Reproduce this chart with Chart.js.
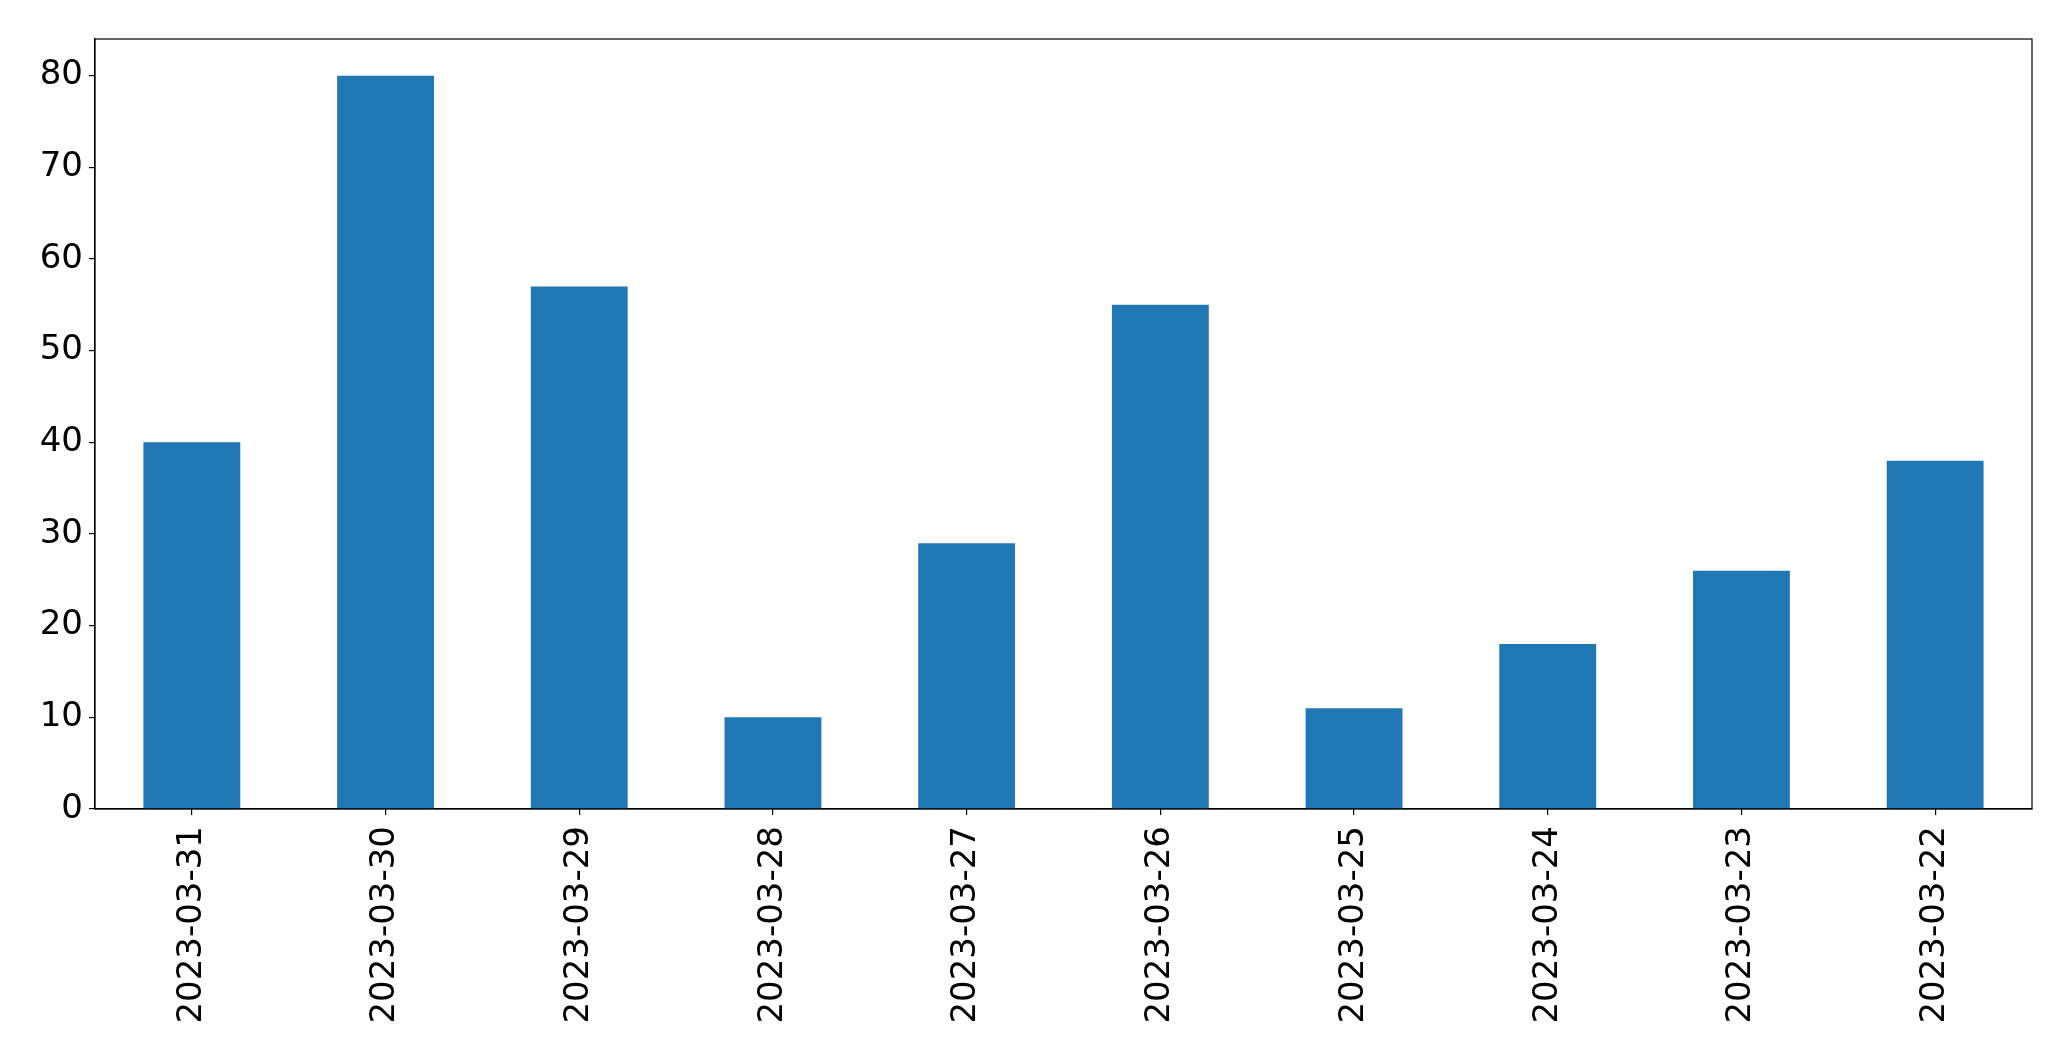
<!DOCTYPE html>
<html>
<head>
<meta charset="utf-8">
<script src="https://cdn.jsdelivr.net/npm/chart.js@4/dist/chart.umd.min.js"></script>
<style>
    html, body { margin: 0; padding: 0; background: #fff; }
    canvas { display: block; }
</style>
</head>
<body>
<canvas id="barChart" width="2071" height="1061"></canvas>
<script>
const dates = ['2023-03-31', '2023-03-30', '2023-03-29', '2023-03-28', '2023-03-27',
               '2023-03-26', '2023-03-25', '2023-03-24', '2023-03-23', '2023-03-22'];
const counts = [40, 80, 57, 10, 29, 55, 11, 18, 26, 38];
const yTicks = [0, 10, 20, 30, 40, 50, 60, 70, 80];

// draws the top and right edges of the axes box
const frameBox = {
    id: 'frameBox',
    afterDraw(chart) {
        const { ctx, chartArea } = chart;
        ctx.save();
        ctx.strokeStyle = '#000';
        ctx.lineWidth = 1.2;
        ctx.strokeRect(chartArea.left, chartArea.top,
            chartArea.right - chartArea.left, chartArea.bottom - chartArea.top);
        ctx.restore();
    }
};

document.addEventListener('DOMContentLoaded', () => {
    const ctx = document.getElementById('barChart').getContext('2d');
    new Chart(ctx, {
        type: 'bar',
        data: {
            labels: dates,
            datasets: [{
                data: counts,
                backgroundColor: '#1f77b4',
                barPercentage: 0.5,
                categoryPercentage: 1.0
            }]
        },
        options: {
            responsive: false,
            animation: false,
            layout: {
                padding: { top: 39, right: 39, left: 0, bottom: 0 }
            },
            plugins: {
                legend: { display: false },
                tooltip: { enabled: false }
            },
            scales: {
                x: {
                    offset: true,
                    grid: {
                        offset: false,
                        drawOnChartArea: false,
                        tickLength: 6,
                        color: '#000',
                        lineWidth: 1.2
                    },
                    border: { display: true, color: '#000', width: 1.2 },
                    ticks: {
                        color: '#000',
                        font: { family: 'DejaVu Sans', size: 34 },
                        minRotation: 90,
                        maxRotation: 90,
                        padding: 11
                    },
                    afterFit: scale => { scale.height = 252; }
                },
                y: {
                    min: 0,
                    max: 84,
                    afterBuildTicks: scale => {
                        scale.ticks = yTicks.map(v => ({ value: v }));
                    },
                    grid: {
                        drawOnChartArea: false,
                        tickLength: 6,
                        color: '#000',
                        lineWidth: 1.2
                    },
                    border: { display: true, color: '#000', width: 1.2 },
                    ticks: {
                        color: '#000',
                        font: { family: 'DejaVu Sans', size: 34 },
                        padding: 6
                    },
                    afterFit: scale => { scale.width = 95; }
                }
            }
        },
        plugins: [frameBox]
    });
});
</script>
</body>
</html>
